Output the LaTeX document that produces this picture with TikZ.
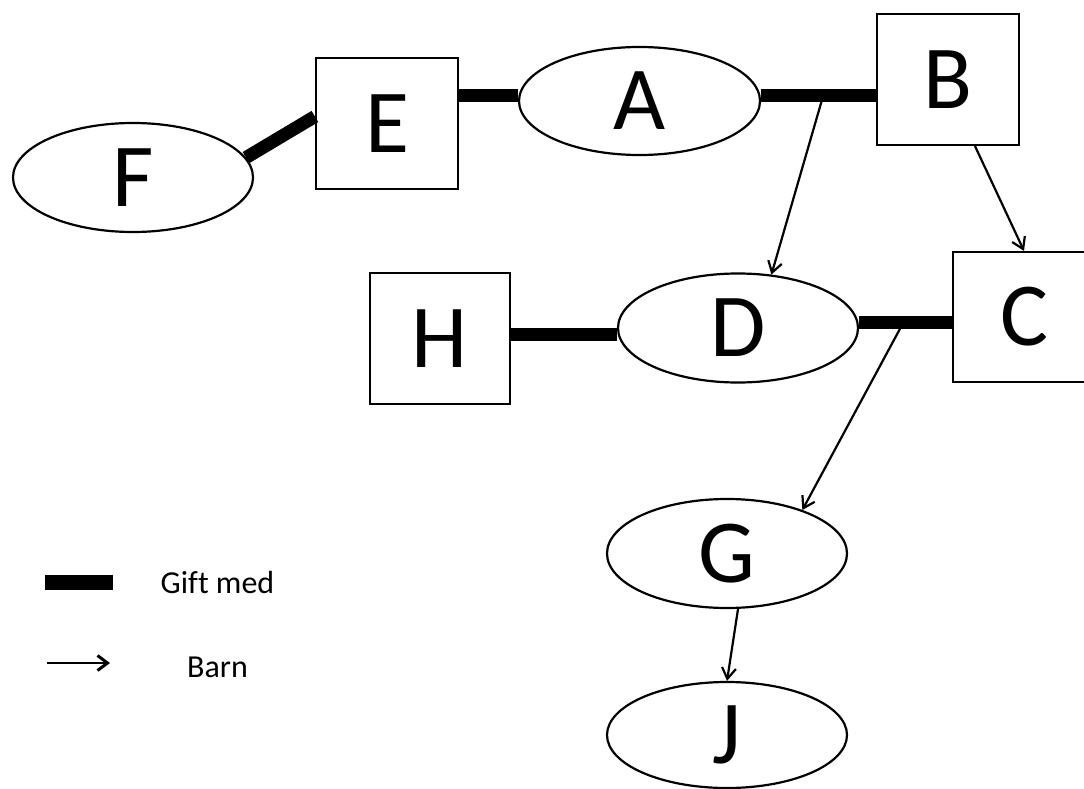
\documentclass[tikz,border=0pt]{standalone}
\usepackage{fontspec}
\setmainfont[Ligatures=NoCommon]{Carlito}
\usetikzlibrary{shapes.geometric,arrows.meta,calc}
\tikzset{
  pers/.style={draw=black,line width=2.2pt,fill=white,inner sep=0pt,font=\fontsize{90}{90}\selectfont},
  ell/.style={pers,ellipse,minimum width=240pt,minimum height=109pt},
  box/.style={pers,rectangle,minimum width=142pt,minimum height=131pt},
  gift/.style={line width=13pt,line cap=butt},
  barn/.style={line width=2.2pt,-{Straight Barb[length=11pt,width=14pt,line width=2.2pt]}},
  legtext/.style={font=\fontsize{32}{32}\selectfont,anchor=base,inner sep=0pt}
}
\begin{document}
\begin{tikzpicture}[x=1pt,y=-1pt]
\useasboundingbox[fill=white] (0,0) rectangle (1084,789);
% nodes
\node[ell] (F) at (133,177.5) {F};
\node[box] (E) at (387,123.5) {E};
\node[ell,minimum width=241pt,minimum height=108pt] (A) at (639.5,101) {A};
\node[box] (B) at (948,79.5) {B};
\node[box,minimum height=130pt] (C) at (1024,317) {C};
\node[ell] (D) at (738,328) {D};
\node[box,minimum width=140pt] (H) at (440,338.5) {H};
\node[ell] (G) at (727,553.5) {G};
\node[ell,minimum height=106pt] (J) at (727,735) {J};
% marriage lines
\coordinate (a1) at ($(A.east)+(0,-5)$);
\coordinate (b1) at ($(B.west)+(0,16.5)$);
\coordinate (d1) at ($(D.east)+(0,-6)$);
\coordinate (c1) at ($(C.west)+(0,5)$);
\coordinate (ab) at ($(a1)!0.54!(b1)$);
\coordinate (dc) at ($(d1)!0.48!(c1)$);
\draw[barn] (ab) -- (D.58);
\draw[barn] ($(B.south)+(27,0)$) -- (C.north);
\draw[barn] (dc) -- (G.30);
\draw[barn] ($(G.south)+(11,0)$) -- (J.north);
\draw[gift] (F.10) -- ($(E.west)+(0,-7)$);
\draw[gift] ($(E.east)+(0,-27.5)$) -- ($(A.west)+(0,-5)$);
\draw[gift] (a1) -- (b1);
\draw[gift] ($(H.east)+(0,-4.5)$) -- ($(D.west)+(0,6)$);
\draw[gift] (d1) -- (c1);
% legend
\coordinate (lg1) at (45,582);
\coordinate (lg2) at (113,582);
\draw[line width=15pt,line cap=butt] (lg1) -- (lg2);
\node[legtext] (lgt) at (217.5,593) {Gift med};
\coordinate (lb1) at (47,663);
\coordinate (lb2) at (110,663);
\draw[line width=2.5pt,-{Straight Barb[length=10pt,width=15pt,line width=3pt]}] (lb1) -- (lb2);
\node[legtext] (lbt) at (217.5,677) {Barn};
\end{tikzpicture}
\end{document}
